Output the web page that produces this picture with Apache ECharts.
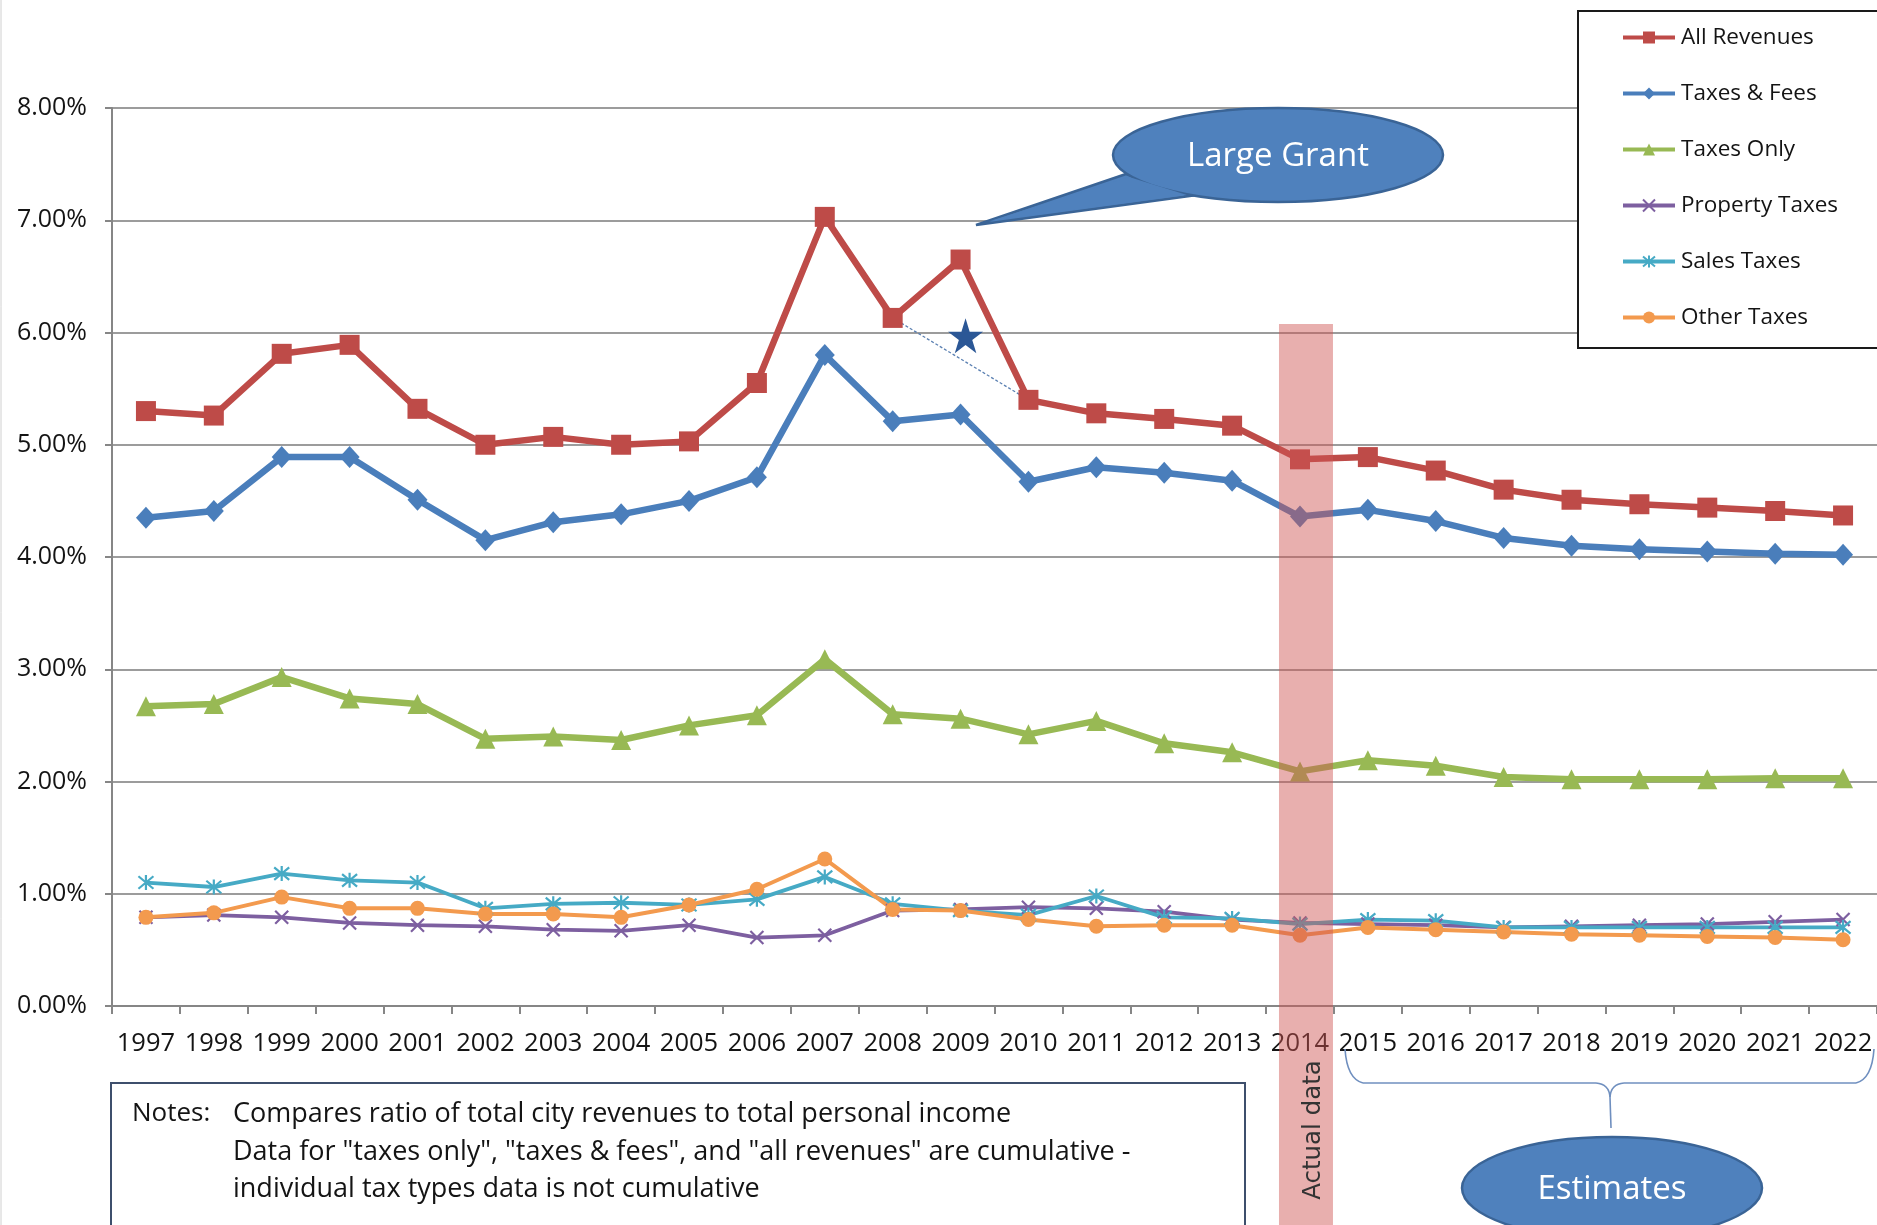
<!DOCTYPE html>
<html>
<head>
<meta charset="utf-8">
<script src="https://cdn.jsdelivr.net/npm/echarts@6/dist/echarts.min.js"></script>
<style>
  html, body { margin: 0; padding: 0; background: #ffffff; }
  #chart { width: 1877px; height: 1225px; }
</style>
</head>
<body>
<div id="chart"></div>
<script>
// Years on the category axis
const years = ['1997','1998','1999','2000','2001','2002','2003','2004','2005','2006','2007','2008','2009',
               '2010','2011','2012','2013','2014','2015','2016','2017','2018','2019','2020','2021','2022'];

// Revenue as a share of personal income (%)
const allRevenues   = [5.30,5.26,5.81,5.89,5.32,5.00,5.07,5.00,5.03,5.55,7.03,6.13,6.65,5.40,5.28,5.23,5.17,4.87,4.89,4.77,4.60,4.51,4.47,4.44,4.41,4.37];
const taxesFees     = [4.35,4.41,4.89,4.89,4.51,4.15,4.31,4.38,4.50,4.71,5.80,5.21,5.27,4.67,4.80,4.75,4.68,4.36,4.42,4.32,4.17,4.10,4.07,4.05,4.03,4.02];
const taxesOnly     = [2.67,2.69,2.93,2.74,2.69,2.38,2.40,2.37,2.50,2.59,3.09,2.60,2.56,2.42,2.54,2.34,2.26,2.09,2.19,2.14,2.04,2.02,2.02,2.02,2.03,2.03];
const propertyTaxes = [0.79,0.81,0.79,0.74,0.72,0.71,0.68,0.67,0.72,0.61,0.63,0.85,0.86,0.88,0.87,0.84,0.77,0.74,0.73,0.72,0.70,0.71,0.72,0.73,0.75,0.77];
const salesTaxes    = [1.10,1.06,1.18,1.12,1.10,0.87,0.91,0.92,0.90,0.95,1.15,0.91,0.85,0.81,0.98,0.79,0.78,0.73,0.77,0.76,0.70,0.70,0.70,0.70,0.70,0.70];
const otherTaxes    = [0.79,0.83,0.97,0.87,0.87,0.82,0.82,0.79,0.90,1.04,1.31,0.86,0.85,0.77,0.71,0.72,0.72,0.63,0.70,0.68,0.66,0.64,0.63,0.62,0.61,0.59];

// 2009 value of all revenues without the one-off grant
const adjustedYear  = '2009';
const adjustedValue = 5.97;
// years joined by the dotted line that skips the grant year
const bridgeYears   = ['2008', '2010'];

// Y axis tick labels
const yTicks = [0, 1, 2, 3, 4, 5, 6, 7, 8];

const seriesNames = ['All Revenues', 'Taxes & Fees', 'Taxes Only', 'Property Taxes', 'Sales Taxes', 'Other Taxes'];

const FONT = '"Open Sans", "Noto Sans", sans-serif';
const INK = '#141414';
const C = {
  red: '#BE4B48', blue: '#4A7EBB', green: '#98B954',
  purple: '#7D5FA0', cyan: '#46AAC5', orange: '#F39A4E'
};

const crossPath = 'path://M0,0L10,10M10,0L0,10';
const asteriskPath = 'path://M0,0L10,10M10,0L0,10M5,-1L5,11';
const starPath = 'path://M50,0L61.2,34.5L97.6,34.5L68.2,55.9L79.4,90.5L50,69.1L20.6,90.5L31.8,55.9L2.4,34.5L38.8,34.5Z';

const bridge = years.map((y, i) => bridgeYears.includes(y) ? allRevenues[i] : null);
const star = years.map(y => y === adjustedYear ? adjustedValue : null);

function lineSeries(name, data, color, width, symbol, size, extra) {
  return Object.assign({
    name, type: 'line', data,
    symbol, symbolSize: size,
    lineStyle: { color, width },
    itemStyle: { color, borderColor: color, borderWidth: 0 },
    emphasis: { disabled: true },
    animation: false
  }, extra || {});
}

const chart = echarts.init(document.getElementById('chart'), null, { renderer: 'canvas' });

const option = {
  backgroundColor: '#ffffff',
  animation: false,
  textStyle: { fontFamily: FONT },
  grid: { left: 112, top: 108, width: 1769, height: 898, containLabel: false },
  legend: {
    data: seriesNames,
    orient: 'vertical',
    left: 1621, top: 26,
    padding: 0,
    itemWidth: 52, itemHeight: 15, itemGap: 33,
    selectedMode: false,
    z: 10,
    lineStyle: { width: 4 },
    textStyle: { fontFamily: FONT, fontSize: 22.5, color: INK, padding: [0, 0, 0, 1] }
  },
  xAxis: {
    type: 'category',
    data: years,
    boundaryGap: true,
    axisLine: { lineStyle: { color: '#868686', width: 2 } },
    axisTick: { show: true, length: 8, lineStyle: { color: '#868686', width: 2 } },
    axisLabel: { interval: 0, fontSize: 25.5, color: INK, margin: 25, fontFamily: FONT }
  },
  yAxis: {
    type: 'value',
    min: yTicks[0], max: yTicks[yTicks.length - 1], interval: 1,
    axisLine: { show: true, lineStyle: { color: '#868686', width: 2 } },
    axisTick: { show: true, length: 7, lineStyle: { color: '#868686', width: 2 } },
    splitLine: { lineStyle: { color: '#9c9c9c', width: 2 } },
    axisLabel: { formatter: v => v.toFixed(2) + '%', fontSize: 25, color: INK, margin: 25, fontFamily: FONT }
  },
  series: [
    lineSeries('All Revenues', allRevenues, C.red, 6.5, 'rect', 20),
    lineSeries('Taxes & Fees', taxesFees, C.blue, 6.5, 'diamond', [20, 22]),
    lineSeries('Taxes Only', taxesOnly, C.green, 6.5, 'triangle', 20),
    lineSeries('Property Taxes', propertyTaxes, C.purple, 3.8, crossPath, 13,
      { itemStyle: { color: 'rgba(0,0,0,0)', borderColor: C.purple, borderWidth: 2.2 } }),
    lineSeries('Sales Taxes', salesTaxes, C.cyan, 3.8, asteriskPath, 15,
      { itemStyle: { color: 'rgba(0,0,0,0)', borderColor: C.cyan, borderWidth: 2.2 } }),
    lineSeries('Other Taxes', otherTaxes, C.orange, 4, 'circle', 15),
    {
      name: 'grant bridge', type: 'line', data: bridge, connectNulls: true,
      symbol: 'none', lineStyle: { color: '#5B80B2', width: 1.3, type: [3, 2] },
      emphasis: { disabled: true }, z: 3
    },
    {
      name: 'adjusted', type: 'line', data: star,
      symbol: starPath, symbolSize: 35, showSymbol: true, symbolOffset: [5, 0],
      itemStyle: { color: '#2B5796' }, lineStyle: { width: 0 },
      emphasis: { disabled: true }, z: 4
    }
  ]
};

chart.setOption(option);

// Annotation overlays placed against the axis
const bandX = chart.convertToPixel({ xAxisIndex: 0 }, '2014');
const H = 1225;

const bracePts = { l: 1345, r: 1874, top: 1049, mid: 1083, tipX: 1610, tipY: 1128 };
const braceStyle = { stroke: '#6F8FBF', lineWidth: 1.6, fill: null };

chart.setOption({
  graphic: { elements: [
    // left edge rule
    { type: 'line', shape: { x1: 1, y1: 0, x2: 1, y2: H }, style: { stroke: '#d0d0d0', lineWidth: 1 }, z: 1 },
    // legend frame
    { type: 'rect', shape: { x: 1578, y: 11, width: 320, height: 337 },
      style: { fill: '#ffffff', stroke: '#1a1a1a', lineWidth: 2 }, z: 5 },
    // actual-data band
    { type: 'rect', shape: { x: bandX - 21, y: 324, width: 54, height: H - 324 },
      style: { fill: 'rgba(206,84,82,0.47)' }, z: 60 },
    { type: 'text', x: bandX + 14, y: 1130, rotation: Math.PI / 2,
      style: { text: 'Actual data', fill: '#333333', font: '24.5px "DejaVu Sans", sans-serif',
               textAlign: 'center', textVerticalAlign: 'middle' }, z: 61 },
    // notes box
    { type: 'rect', shape: { x: 111, y: 1083, width: 1134, height: 160 },
      style: { fill: '#ffffff', stroke: '#3E4F6C', lineWidth: 2 }, z: 5 },
    { type: 'text', x: 132, y: 1114,
      style: { text: 'Notes:', fill: INK, font: '26px ' + FONT, textVerticalAlign: 'middle' }, z: 6 },
    { type: 'text', x: 233, y: 1114,
      style: { text: 'Compares ratio of total city revenues to total personal income', fill: INK,
               font: '27px ' + FONT, textVerticalAlign: 'middle' }, z: 6 },
    { type: 'text', x: 233, y: 1152,
      style: { text: 'Data for "taxes only", "taxes & fees", and "all revenues" are cumulative -', fill: INK,
               font: '27px ' + FONT, textVerticalAlign: 'middle' }, z: 6 },
    { type: 'text', x: 233, y: 1189,
      style: { text: 'individual tax types data is not cumulative', fill: INK,
               font: '27px ' + FONT, textVerticalAlign: 'middle' }, z: 6 },
    // "Large Grant" callout
    { type: 'polygon', shape: { points: [[1126, 174], [976, 225], [1190, 196]] },
      style: { fill: '#4F81BD', stroke: '#3A6496', lineWidth: 2.5 }, z: 20 },
    { type: 'ellipse', shape: { cx: 1278, cy: 155, rx: 165, ry: 47 },
      style: { fill: '#4F81BD', stroke: '#3A6496', lineWidth: 2.5 }, z: 21 },
    { type: 'polygon', shape: { points: [[1129, 177], [990, 221], [1187, 195]] },
      style: { fill: '#4F81BD' }, z: 22 },
    { type: 'text', x: 1278, y: 157,
      style: { text: 'Large Grant', fill: '#ffffff', font: '500 33px ' + FONT,
               textAlign: 'center', textVerticalAlign: 'middle' }, z: 23 },
    // estimates brace
    { type: 'bezierCurve', shape: { x1: bracePts.l, y1: bracePts.top, cpx1: bracePts.l + 2, cpy1: bracePts.mid - 4,
                                    x2: bracePts.l + 18, y2: bracePts.mid }, style: braceStyle, z: 7 },
    { type: 'line', shape: { x1: bracePts.l + 18, y1: bracePts.mid, x2: bracePts.tipX - 14, y2: bracePts.mid },
      style: braceStyle, z: 7 },
    { type: 'bezierCurve', shape: { x1: bracePts.tipX - 14, y1: bracePts.mid, cpx1: bracePts.tipX - 1, cpy1: bracePts.mid + 1,
                                    x2: bracePts.tipX, y2: bracePts.mid + 14 }, style: braceStyle, z: 7 },
    { type: 'bezierCurve', shape: { x1: bracePts.tipX + 14, y1: bracePts.mid, cpx1: bracePts.tipX + 1, cpy1: bracePts.mid + 1,
                                    x2: bracePts.tipX, y2: bracePts.mid + 14 }, style: braceStyle, z: 7 },
    { type: 'line', shape: { x1: bracePts.tipX, y1: bracePts.mid + 14, x2: bracePts.tipX + 1, y2: bracePts.tipY },
      style: braceStyle, z: 7 },
    { type: 'line', shape: { x1: bracePts.tipX + 14, y1: bracePts.mid, x2: bracePts.r - 18, y2: bracePts.mid },
      style: braceStyle, z: 7 },
    { type: 'bezierCurve', shape: { x1: bracePts.r - 18, y1: bracePts.mid, cpx1: bracePts.r - 2, cpy1: bracePts.mid - 4,
                                    x2: bracePts.r, y2: bracePts.top }, style: braceStyle, z: 7 },
    // "Estimates" callout
    { type: 'ellipse', shape: { cx: 1612, cy: 1188, rx: 150, ry: 51 },
      style: { fill: '#4F81BD', stroke: '#3A6496', lineWidth: 2.5 }, z: 20 },
    { type: 'text', x: 1612, y: 1190,
      style: { text: 'Estimates', fill: '#ffffff', font: '500 33px ' + FONT,
               textAlign: 'center', textVerticalAlign: 'middle' }, z: 23 }
  ] }
});
</script>
</body>
</html>
